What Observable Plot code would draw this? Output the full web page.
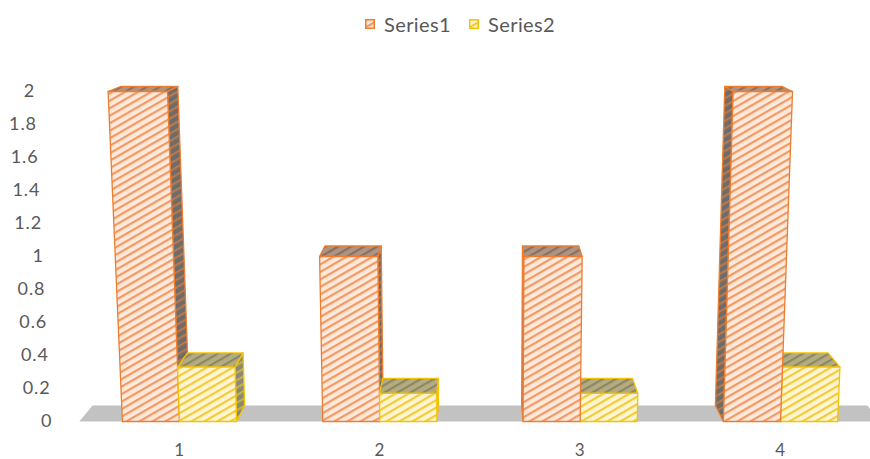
<!DOCTYPE html>
<html>
<head>
<meta charset="utf-8">
<script src="https://cdn.jsdelivr.net/npm/d3@7"></script>
<script src="https://cdn.jsdelivr.net/npm/@observablehq/plot@0.6"></script>
<style>
  html, body { margin: 0; padding: 0; background: #fff; }
  body { width: 870px; height: 459px; overflow: hidden; font-family: Lato, "Open Sans", sans-serif; }
  #legend { height: 42px; padding-top: 6px; display: flex; align-items: center; padding-left: 365px; box-sizing: border-box; color: #595959; font-size: 20px; letter-spacing: 0.4px; }
  .item { display: flex; align-items: center; margin-right: 18px; }
  .item svg { margin-right: 9px; }
</style>
</head>
<body>
<svg width="0" height="0" style="position:absolute">
  <defs>
    <pattern id="s1front" width="6.5" height="6.5" patternUnits="userSpaceOnUse" patternTransform="rotate(-30)">
      <rect width="6.5" height="6.5" fill="#fde8da"/><rect width="6.5" height="2.2" fill="#ee9a64"/>
    </pattern>
    <pattern id="s1top" width="6.5" height="6.5" patternUnits="userSpaceOnUse" patternTransform="rotate(-30)">
      <rect width="6.5" height="6.5" fill="#ad9484"/><rect width="6.5" height="2.2" fill="#8a6e5e"/>
    </pattern>
    <pattern id="s1side" width="6.5" height="6.5" patternUnits="userSpaceOnUse" patternTransform="rotate(-30)">
      <rect width="6.5" height="6.5" fill="#6e6c6a"/><rect width="6.5" height="2.2" fill="#b8784c"/>
    </pattern>
    <pattern id="s2front" width="6.5" height="6.5" patternUnits="userSpaceOnUse" patternTransform="rotate(-30)">
      <rect width="6.5" height="6.5" fill="#fff5d2"/><rect width="6.5" height="2.2" fill="#f2cb38"/>
    </pattern>
    <pattern id="s2top" width="6.5" height="6.5" patternUnits="userSpaceOnUse" patternTransform="rotate(-30)">
      <rect width="6.5" height="6.5" fill="#b4ac80"/><rect width="6.5" height="2.2" fill="#8c8762"/>
    </pattern>
    <pattern id="s2side" width="6.5" height="6.5" patternUnits="userSpaceOnUse" patternTransform="rotate(-30)">
      <rect width="6.5" height="6.5" fill="#8a8878"/><rect width="6.5" height="2.2" fill="#c8b042"/>
    </pattern>
  </defs>
</svg>
<div id="legend">
  <div class="item"><svg width="10" height="10"><rect x="0.75" y="0.75" width="8.5" height="8.5" fill="url(#s1front)" stroke="#ED7D31" stroke-width="1.5"/></svg><span>Series1</span></div>
  <div class="item"><svg width="10" height="10"><rect x="0.75" y="0.75" width="8.5" height="8.5" fill="url(#s2front)" stroke="#F5C400" stroke-width="1.5"/></svg><span>Series2</span></div>
</div>
<div id="chart"></div>
<script>
// ---- data ----
const categories = [1, 2, 3, 4];
const series1 = [2, 1, 1, 2];
const series2 = [0.33, 0.17, 0.17, 0.33];
const yTicks = [0, 0.2, 0.4, 0.6, 0.8, 1, 1.2, 1.4, 1.6, 1.8, 2];
const yTickLabels = ["0", "0.2", "0.4", "0.6", "0.8", "1", "1.2", "1.4", "1.6", "1.8", "2"];

// ---- 3D look (layout constants) ----
const cx = (categories[0] + categories[categories.length - 1]) / 2;
const BAR = 0.285;      // bar width in category units
const A = 0.02;         // perspective widening per value unit
const B = 0.033;        // convergence toward centre going back
const D0 = 0.0967, D1 = 0.0332; // depth rise (value units)
const P = (x, v, z) => ({
  x: cx + (x - cx) * (1 + A * v) * (1 - B * z),
  y: v + z * (D0 - D1 * v)
});

const faces = [];
let fid = 0;
function quad(pts, fill, stroke) {
  const id = fid++;
  pts.forEach(p => faces.push({id, x: p.x, y: p.y, fill, stroke}));
}
// floor
const fx0 = categories[0] - 0.5, fx1 = categories[categories.length - 1] + 0.5;
quad([P(fx0, 0, 0), P(fx1, 0, 0), P(fx1, 0, 1), P(fx0, 0, 1)], "#c2c2c2", "none");

const styles = [
  {front: "url(#s1front)", top: "url(#s1top)", side: "url(#s1side)", stroke: "#ED7D31"},
  {front: "url(#s2front)", top: "url(#s2top)", side: "url(#s2side)", stroke: "#F5C400"}
];
categories.forEach((c, i) => {
  let boxes = [
    {x0: c - BAR, x1: c, v: series1[i], s: styles[0]},
    {x0: c, x1: c + BAR, v: series2[i], s: styles[1]}
  ];
  if (c > cx) boxes.reverse();
  boxes.forEach(({x0, x1, v, s}) => {
    const sx = (x0 + x1) / 2 < cx ? x1 : x0;
    quad([P(sx, 0, 0), P(sx, v, 0), P(sx, v, 1), P(sx, 0, 1)], s.side, s.stroke);
    quad([P(x0, v, 0), P(x1, v, 0), P(x1, v, 1), P(x0, v, 1)], s.top, s.stroke);
    quad([P(x0, 0, 0), P(x1, 0, 0), P(x1, v, 0), P(x0, v, 0)], s.front, s.stroke);
  });
});

const labelX = categories[0] - 0.5 - 0.135;
const yLabels = yTicks.map((t, i) => ({p: P(labelX, t, 0), label: yTickLabels[i]}));

const chart = Plot.plot({
  width: 870,
  height: 417,
  marginTop: 0, marginRight: 0, marginBottom: 0, marginLeft: 0,
  x: {type: "linear", domain: [1, 4], range: [179, 780], axis: null},
  y: {type: "linear", domain: [0, 2], range: [379, 49], axis: null},
  color: {type: "identity"},
  style: {fontFamily: "Lato, 'Open Sans', sans-serif", letterSpacing: "0.9px", background: "#fff"},
  marks: [
    Plot.line(faces, {x: "x", y: "y", z: "id", fill: "fill", stroke: "stroke", curve: "linear-closed", strokeWidth: 1.3, strokeLinejoin: "round"}),
    Plot.text(yLabels, {x: d => d.p.x, y: d => d.p.y, text: "label", textAnchor: "end", fontSize: 18, fill: "#595959"}),
    Plot.text(categories, {x: d => d, y: () => 0, dy: 29, text: d => String(d), fontSize: 17, fill: "#595959"})
  ]
});
document.getElementById("chart").appendChild(chart);
</script>
</body>
</html>
